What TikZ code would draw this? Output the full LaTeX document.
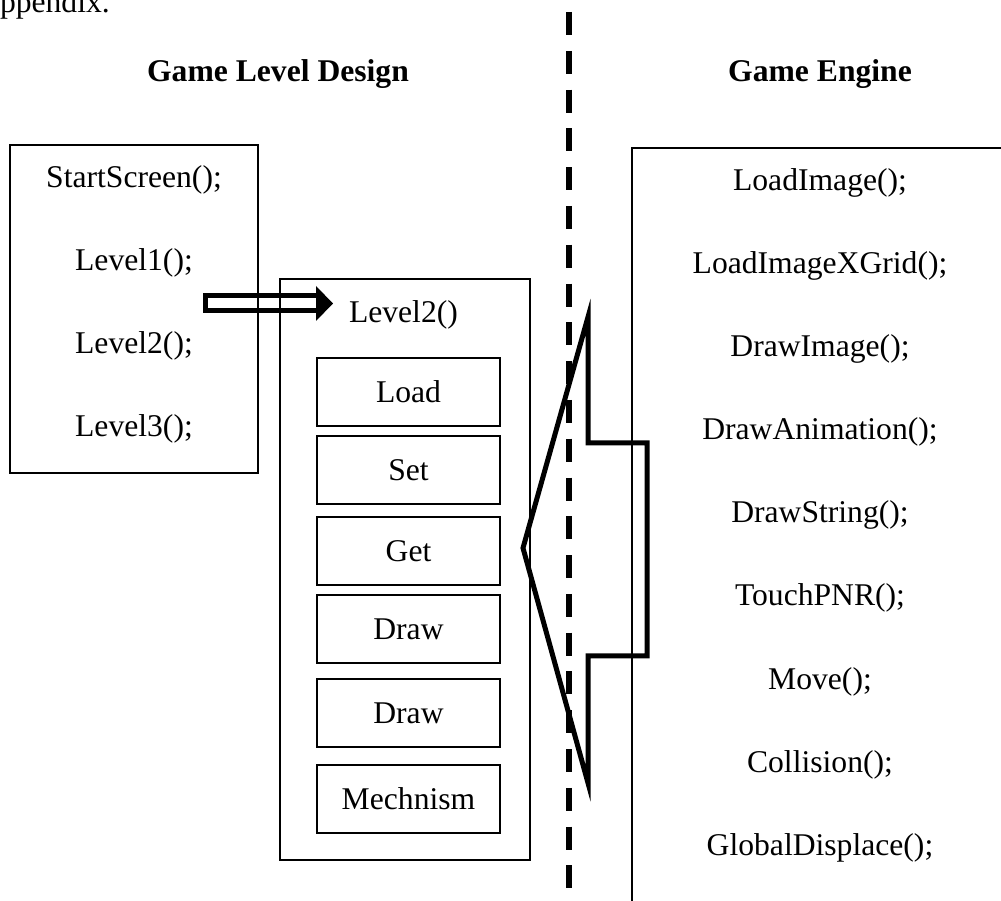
\documentclass[tikz,border=0pt]{standalone}
\usepackage{fontspec}
\setmainfont{Liberation Serif}
\begin{document}
\begin{tikzpicture}[x=0.02cm,y=-0.02cm,
  every node/.style={inner sep=0pt, outer sep=0pt},
  txt/.style={font=\fontsize{18}{21}\selectfont},
  ttl/.style={font=\fontsize{18}{21}\selectfont\bfseries},
  thinbox/.style={draw, line width=0.04cm},
  subbox/.style={thinbox, txt, minimum width=3.66cm, minimum height=1.38cm},
  bigarrow/.style={line width=0.1cm, line join=miter},
  dblshaft/.style={line width=0.1cm},
  divider/.style={line width=0.12cm, dash pattern=on 0.46cm off 0.316cm}]
\clip (0,0) rectangle (1001,901);
% headings
\node[txt, anchor=base west] (app) at (0,13) {ppendix.};
\node[ttl, anchor=base] (t1) at (278,82) {Game Level Design};
\node[ttl, anchor=base] (t2) at (820,82) {Game Engine};
% left box
\node[thinbox, minimum width=4.96cm, minimum height=6.56cm] (left) at (134,309) {};
\node[txt] (s0) at (134,180) {StartScreen();};
\node[txt] (s1) at (134,263) {Level1();};
\node[txt] (s2) at (134,346) {Level2();};
\node[txt] (s3) at (134,429) {Level3();};
% level2 box
\node[thinbox, minimum width=5cm, minimum height=11.62cm] (lv2) at (405,569.5) {};
\node[txt, anchor=base west] (lv2t) at (349,323) {Level2()};
\node[subbox] (load) at (408.5,392) {Load};
\node[subbox] (set) at (408.5,470) {Set};
\node[subbox] (get) at (408.5,551) {Get};
\node[subbox] (draw1) at (408.5,629) {Draw};
\node[subbox] (draw2) at (408.5,713) {Draw};
\node[subbox] (mech) at (408.5,799) {Mechnism};
% double arrow
\coordinate (daA) at (205,295.5);
\coordinate (daB) at (318,310.5);
\coordinate (dh1) at (316,286);
\coordinate (dtip) at (333,303.5);
\coordinate (dh2) at (316,321);
\draw[dblshaft] (daA) rectangle (daB);
\fill (dh1) -- (dtip) -- (dh2) -- cycle;
% right box
\coordinate (rtop) at (1010,148);
\coordinate (rc) at (632,148);
\coordinate (rbot) at (632,910);
\draw[line width=0.04cm] (rtop) -- (rc) -- (rbot);
\node[txt] (e1) at (820,183) {LoadImage();};
\node[txt] (e2) at (820,266) {LoadImageXGrid();};
\node[txt] (e3) at (820,349) {DrawImage();};
\node[txt] (e4) at (820,432) {DrawAnimation();};
\node[txt] (e5) at (820,515) {DrawString();};
\node[txt] (e6) at (820,598) {TouchPNR();};
\node[txt] (e7) at (820,682) {Move();};
\node[txt] (e8) at (820,765) {Collision();};
\node[txt] (e9) at (820,848) {GlobalDisplace();};
% divider
\coordinate (d1) at (569,12);
\coordinate (d2) at (569,910);
\draw[divider] (d1) -- (d2);
% big arrow
\coordinate (bA) at (588,317);
\coordinate (bB) at (523,548);
\coordinate (bC) at (588,783);
\coordinate (bD) at (588,656);
\coordinate (bE) at (647,656);
\coordinate (bF) at (647,443);
\coordinate (bG) at (588,443);
\draw[bigarrow] (bA) -- (bB) -- (bC) -- (bD) -- (bE) -- (bF) -- (bG) -- cycle;
\end{tikzpicture}
\end{document}
